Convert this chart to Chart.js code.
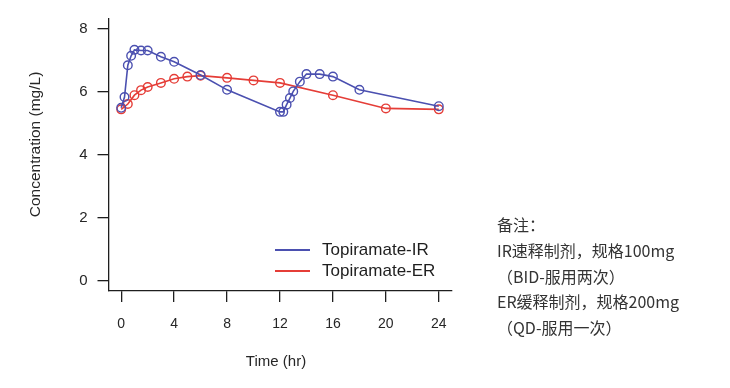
<!DOCTYPE html>
<html>
<head>
<meta charset="utf-8">
<script src="https://cdn.jsdelivr.net/npm/chart.js@4/dist/chart.umd.min.js"></script>
<style>
  html, body { margin: 0; padding: 0; background: #ffffff; }
  #wrap { position: relative; width: 730px; height: 388px; overflow: hidden; }
  #note { position: absolute; left: 497px; top: 212px; font-family: "Noto Sans CJK SC", "Noto Sans", sans-serif;
          font-size: 16px; line-height: 25.75px; color: #333333; white-space: nowrap; }
</style>
</head>
<body>
<div id="wrap">
  <canvas id="c" width="730" height="388"></canvas>
  <div id="note">
    <div>备注：</div>
    <div>IR速释制剂，规格100mg</div>
    <div>（BID-服用两次）</div>
    <div>ER缓释制剂，规格200mg</div>
    <div>（QD-服用一次）</div>
  </div>
</div>
<script>
// ---- data ----
const irTime = [0, 0.25, 0.5, 0.75, 1, 1.5, 2, 3, 4, 6, 8, 12, 12.25, 12.5, 12.75, 13, 13.5, 14, 15, 16, 18, 24];
const irConc = [5.5, 5.84, 6.85, 7.15, 7.34, 7.32, 7.32, 7.12, 6.96, 6.54, 6.07, 5.37, 5.37, 5.6, 5.81, 6.02, 6.33, 6.57, 6.57, 6.49, 6.07, 5.55];
const erTime = [0, 0.5, 1, 1.5, 2, 3, 4, 5, 6, 8, 10, 12, 16, 20, 24];
const erConc = [5.45, 5.62, 5.9, 6.06, 6.16, 6.29, 6.42, 6.49, 6.52, 6.45, 6.37, 6.29, 5.9, 5.48, 5.45];
const xTicks = [0, 4, 8, 12, 16, 20, 24];
const yTicks = [0, 2, 4, 6, 8];
const seriesLabels = ["Topiramate-IR", "Topiramate-ER"];
const xTitle = "Time (hr)";
const yTitle = "Concentration (mg/L)";

const BLUE = "#4b50b0";
const RED = "#e53d37";
const INK = "#1e1e1e";
const FONT = '"Liberation Sans", Arial, sans-serif';

function pts(xs, ys) { return xs.map((x, i) => ({ x: x, y: ys[i] })); }

const overlay = {
  id: "overlay",
  afterDraw(chart) {
    const ctx = chart.ctx;
    ctx.save();
    // axis titles
    ctx.fillStyle = "#262626";
    ctx.font = "15px " + FONT;
    ctx.textAlign = "center";
    ctx.textBaseline = "middle";
    ctx.fillText(xTitle, 276, 362);
    ctx.save();
    ctx.translate(36, 144.5);
    ctx.rotate(-Math.PI / 2);
    ctx.font = "15.5px " + FONT;
    ctx.fillText(yTitle, 0, 0);
    ctx.restore();
    // legend
    const colors = [BLUE, RED];
    const ys = [250, 271];
    ctx.font = "17px " + FONT;
    ctx.textAlign = "left";
    for (let i = 0; i < 2; i++) {
      ctx.strokeStyle = colors[i];
      ctx.lineWidth = 2;
      ctx.beginPath();
      ctx.moveTo(275, ys[i]);
      ctx.lineTo(310, ys[i]);
      ctx.stroke();
      ctx.fillStyle = INK;
      ctx.fillText(seriesLabels[i], 322, ys[i]);
    }
    ctx.restore();
  }
};

new Chart(document.getElementById("c"), {
  type: "scatter",
  data: {
    datasets: [
      {
        label: seriesLabels[0], data: pts(irTime, irConc), showLine: true,
        borderColor: BLUE, borderWidth: 1.6, backgroundColor: "rgba(0,0,0,0)",
        pointRadius: 4.3, pointBorderWidth: 1.4, pointBorderColor: BLUE, pointBackgroundColor: "rgba(0,0,0,0)"
      },
      {
        label: seriesLabels[1], data: pts(erTime, erConc), showLine: true,
        borderColor: RED, borderWidth: 1.6, backgroundColor: "rgba(0,0,0,0)",
        pointRadius: 4.3, pointBorderWidth: 1.4, pointBorderColor: RED, pointBackgroundColor: "rgba(0,0,0,0)"
      }
    ]
  },
  options: {
    responsive: false,
    animation: false,
    layout: { padding: { left: 0, top: 15, right: 278.5, bottom: 0 } },
    plugins: { legend: { display: false }, tooltip: { enabled: false } },
    scales: {
      x: {
        type: "linear", min: -0.96, max: 24.96,
        afterBuildTicks: s => { s.ticks = xTicks.map(v => ({ value: v })); },
        afterFit: s => { s.height = 97; },
        grid: { drawOnChartArea: false, drawTicks: true, tickLength: 11, color: INK, lineWidth: 1.3 },
        border: { display: true, color: INK, width: 1.3 },
        ticks: { color: "#262626", font: { family: FONT, size: 14 }, padding: 14, maxRotation: 0 },
        title: { display: false }
      },
      y: {
        type: "linear", min: -0.32, max: 8.32,
        afterBuildTicks: s => { s.ticks = yTicks.map(v => ({ value: v })); },
        afterFit: s => { s.width = 108.5; },
        grid: { drawOnChartArea: false, drawTicks: true, tickLength: 11, color: INK, lineWidth: 1.3 },
        border: { display: true, color: INK, width: 1.3 },
        ticks: { color: "#262626", font: { family: FONT, size: 15 }, padding: 10 },
        title: { display: false }
      }
    }
  },
  plugins: [overlay]
});
</script>
</body>
</html>
